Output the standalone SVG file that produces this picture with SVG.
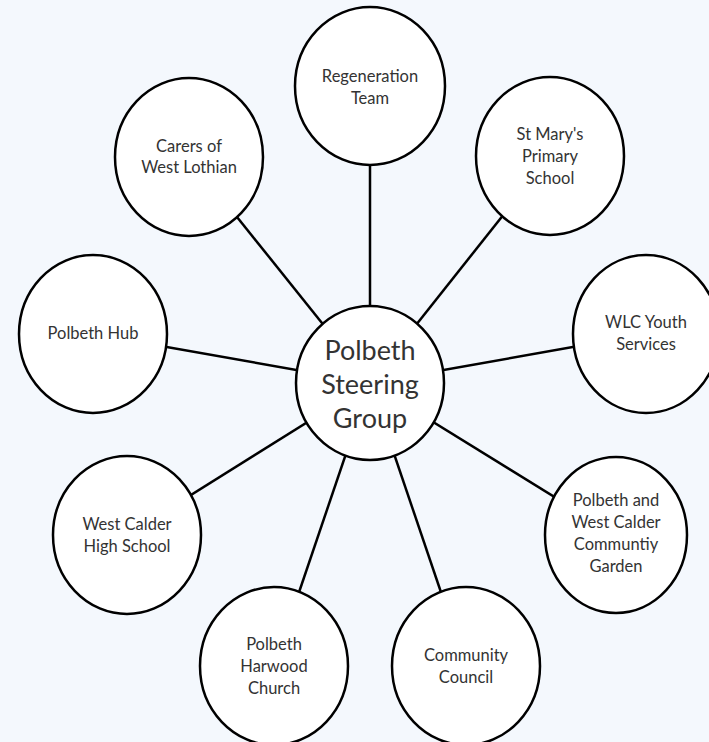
<svg xmlns="http://www.w3.org/2000/svg" width="709" height="742" viewBox="0 0 709 742">
  <style>
    .bg { fill: #f4f8fd; }
    .node ellipse { fill: #ffffff; stroke: #000000; stroke-width: 2.5; }
    .node text { font-family: Lato, "Open Sans", "Liberation Sans", sans-serif; font-size: 16.5px; fill: #333333; text-anchor: middle; }
    .hub text { font-size: 27px; }
    .links line { stroke: #000000; stroke-width: 2.5; }
  </style>
  <rect class="bg" x="0" y="0" width="709" height="742"/>

  <!-- spokes from the steering group to each partner -->
  <g class="links">
    <line x1="370" y1="383" x2="370" y2="86"/>
    <line x1="370" y1="383" x2="189" y2="157"/>
    <line x1="370" y1="383" x2="550" y2="156"/>
    <line x1="370" y1="383" x2="93" y2="334"/>
    <line x1="370" y1="383" x2="646" y2="334"/>
    <line x1="370" y1="383" x2="127" y2="535"/>
    <line x1="370" y1="383" x2="616" y2="535"/>
    <line x1="370" y1="383" x2="274" y2="666"/>
    <line x1="370" y1="383" x2="466" y2="666"/>
  </g>

  <g id="regeneration-team" class="node">
    <ellipse cx="370" cy="86" rx="75" ry="79"/>
    <text x="370" y="82">Regeneration</text>
    <text x="370" y="104">Team</text>
  </g>

  <g id="carers-west-lothian" class="node">
    <ellipse cx="189" cy="157" rx="74" ry="79"/>
    <text x="189" y="152">Carers of</text>
    <text x="189" y="173">West Lothian</text>
  </g>

  <g id="st-marys" class="node">
    <ellipse cx="550" cy="156" rx="74" ry="79"/>
    <text x="550" y="140">St Mary's</text>
    <text x="550" y="162">Primary</text>
    <text x="550" y="184">School</text>
  </g>

  <g id="polbeth-hub" class="node">
    <ellipse cx="93" cy="334" rx="74" ry="79"/>
    <text x="93" y="339">Polbeth Hub</text>
  </g>

  <g id="wlc-youth-services" class="node">
    <ellipse cx="646" cy="334" rx="73" ry="79"/>
    <text x="646" y="328">WLC Youth</text>
    <text x="646" y="350">Services</text>
  </g>

  <g id="west-calder-high-school" class="node">
    <ellipse cx="127" cy="535" rx="74" ry="79"/>
    <text x="127" y="530">West Calder</text>
    <text x="127" y="552">High School</text>
  </g>

  <g id="community-garden" class="node">
    <ellipse cx="616" cy="535" rx="71" ry="78"/>
    <text x="616" y="506">Polbeth and</text>
    <text x="616" y="528">West Calder</text>
    <text x="616" y="550">Communtiy</text>
    <text x="616" y="572">Garden</text>
  </g>

  <g id="polbeth-harwood-church" class="node">
    <ellipse cx="274" cy="666" rx="74" ry="79"/>
    <text x="274" y="650">Polbeth</text>
    <text x="274" y="672">Harwood</text>
    <text x="274" y="694">Church</text>
  </g>

  <g id="community-council" class="node">
    <ellipse cx="466" cy="666" rx="74" ry="79"/>
    <text x="466" y="661">Community</text>
    <text x="466" y="683">Council</text>
  </g>

  <g id="polbeth-steering-group" class="node hub">
    <ellipse cx="370" cy="383" rx="74" ry="77"/>
    <text x="370" y="360">Polbeth</text>
    <text x="370" y="394">Steering</text>
    <text x="370" y="428">Group</text>
  </g>
</svg>
